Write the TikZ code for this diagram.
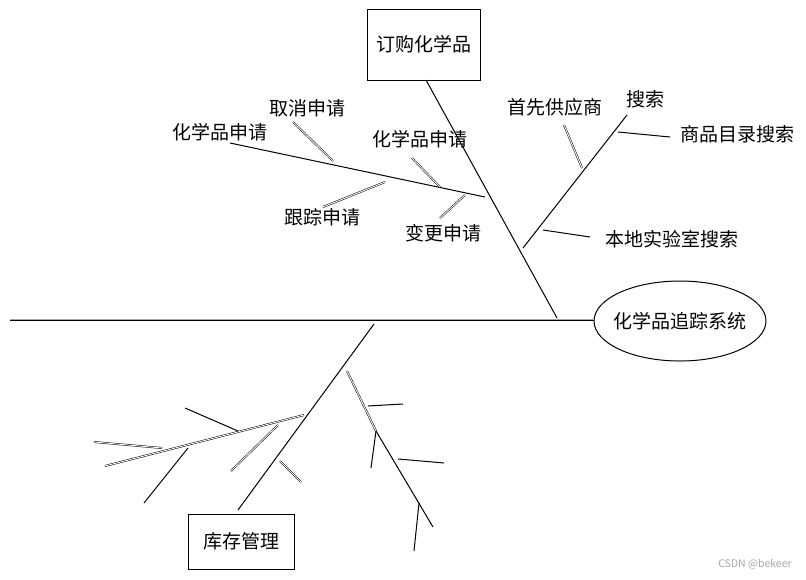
\documentclass[tikz,border=0pt]{standalone}
\usepackage{fontspec}
\setmainfont{Noto Sans CJK SC}
\begin{document}
\begin{tikzpicture}[x=1pt, y=-1pt,
    bone/.style={line width=1pt},
    bonetwo/.style={double, line width=0.5pt, double distance=0.9pt},
    lbl/.style={font=\fontsize{19}{21}\selectfont, inner sep=0pt},
    headbox/.style={draw, line width=1pt, inner sep=0pt, font=\fontsize{19}{21}\selectfont}]
    \useasboundingbox (0,0) rectangle (806,579);

    % heads
    \node[headbox, minimum width=113pt, minimum height=71pt] (order) at (423.5,44.5) {订购化学品};
    \node[headbox, minimum width=106pt, minimum height=55pt] (stock) at (241,541.5) {库存管理};
    \node[lbl] (system) at (680,321) {化学品追踪系统};
    \draw[line width=1pt] (system.center) ellipse [x radius=86, y radius=40];
    \coordinate (syswest) at (594,320);

    % spine
    \coordinate (tail) at (10,320);
    \draw[line width=2pt, gray!70] (tail) -- (syswest);
    \draw[line width=0.6pt] (tail) -- (syswest);

    % upper bone: ordering
    \coordinate (ordend) at (557,318);
    \draw[bone] (426,80) -- (ordend);
    \coordinate (reqa) at (230,143);
    \coordinate (reqb) at (485,197);
    \draw[bone] (reqa) -- (reqb);
    \node[lbl] (req) at (220,132) {化学品申请};
    \node[lbl] (cancel) at (307,108) {取消申请};
    \draw[bonetwo] (293,122) -- (333,161);
    \node[lbl] (req2) at (420,139) {化学品申请};
    \draw[bonetwo] (412,158) -- (440,187);
    \node[lbl] (track) at (322,217) {跟踪申请};
    \draw[bonetwo] (323,207) -- (385,182);
    \node[lbl] (change) at (443,233) {变更申请};
    \draw[bonetwo] (440,218) -- (465,195);

    % upper bone: search
    \coordinate (srcha) at (523,248);
    \coordinate (srchb) at (627,115);
    \draw[bone] (srcha) -- (srchb);
    \node[lbl] (search) at (645,99) {搜索};
    \node[lbl] (vendor) at (555,107) {首先供应商};
    \draw[bonetwo] (564,125) -- (582,168);
    \node[lbl] (catalog) at (737,134) {商品目录搜索};
    \draw[bone] (618,132) -- (670,137);
    \node[lbl] (lab) at (672,239) {本地实验室搜索};
    \draw[bone] (543,230) -- (590,237);

    % lower bone: stock
    \coordinate (stkend) at (374,324);
    \draw[bone] (stkend) -- (238,510);
    \draw[bonetwo] (304,415) -- (105,466);
    \draw[bone] (185,408) -- (238,431);
    \draw[bonetwo] (94,442) -- (162,448);
    \draw[bone] (188,448) -- (144,503);
    \draw[bonetwo] (278,425) -- (231,471);
    \draw[bonetwo] (280,461) -- (301,482);
    \draw[bonetwo] (347,371) -- (376,431);
    \draw[bone] (376,431) -- (433,527);
    \draw[bone] (368,406) -- (403,404);
    \draw[bone] (376,431) -- (371,468);
    \draw[bone] (398,459) -- (444,463);
    \draw[bone] (419,503) -- (414,551);

    % watermark
    \node[font=\fontsize{10.5}{12}\selectfont, text=gray!70] (mark) at (755,564) {CSDN @bekeer};
\end{tikzpicture}
\end{document}
